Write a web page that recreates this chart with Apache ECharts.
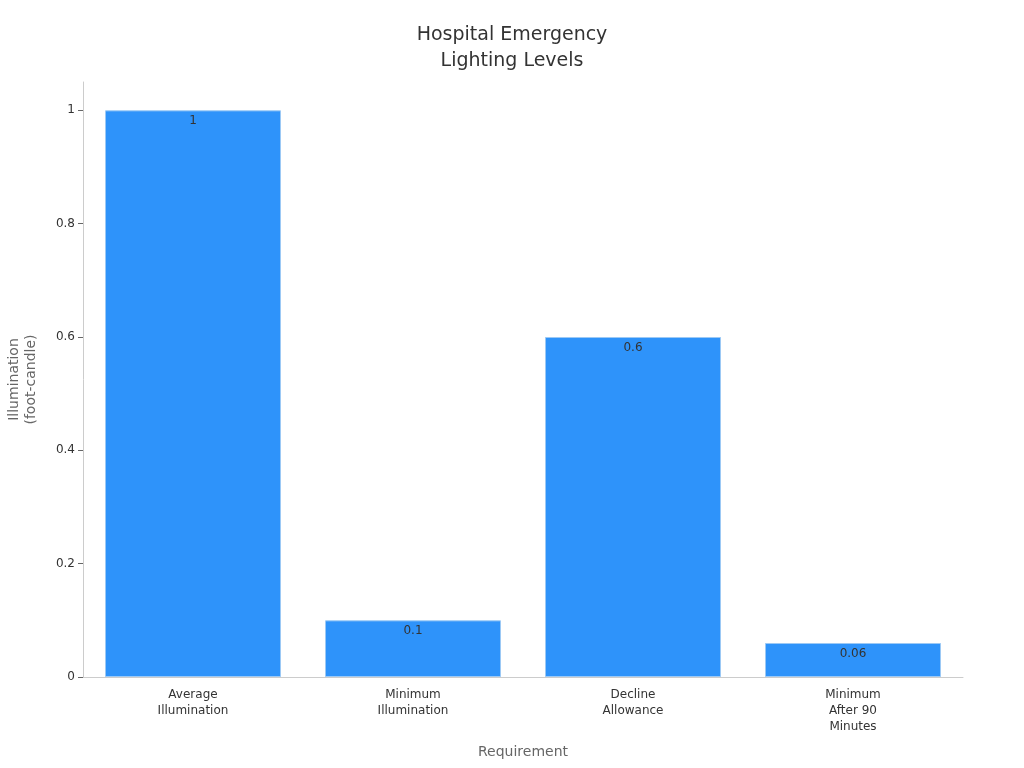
<!DOCTYPE html>
<html>
<head>
<meta charset="utf-8">
<script src="https://cdn.jsdelivr.net/npm/echarts@6/dist/echarts.min.js"></script>
<style>
  html, body { margin: 0; padding: 0; background: #fff; }
  #chart { width: 1024px; height: 768px; }
</style>
</head>
<body>
<div id="chart"></div>
<script>
// data
var categories = ['Average\nIllumination', 'Minimum\nIllumination', 'Decline\nAllowance', 'Minimum\nAfter 90\nMinutes'];
var values = [1, 0.1, 0.6, 0.06];
var yTicks = [0, 0.2, 0.4, 0.6, 0.8, 1];

var myChart = echarts.init(document.getElementById('chart'));
var option = {
    textStyle: { fontFamily: 'DejaVu Sans' },
    title: {
        text: 'Hospital Emergency\nLighting Levels',
        left: 'center',
        top: 17,
        textStyle: { fontFamily: 'DejaVu Sans', fontSize: 19, fontWeight: 'normal', color: '#333', lineHeight: 26 }
    },
    grid: { left: 83, right: 61, top: 82, bottom: 91, outerBoundsMode: 'none', containLabel: false },
    xAxis: {
        type: 'category',
        data: categories,
        name: 'Requirement',
        nameLocation: 'middle',
        nameGap: 68,
        nameTextStyle: { fontSize: 14, color: '#666' },
        axisLine: { lineStyle: { color: '#ccc' } },
        axisTick: { alignWithLabel: true, length: 5, lineStyle: { color: '#666' } },
        axisLabel: { fontSize: 12, color: '#333', lineHeight: 16, margin: 10, interval: 0 }
    },
    yAxis: {
        type: 'value',
        min: 0,
        max: 1.05,
        name: 'Illumination\n(foot-candle)',
        nameLocation: 'middle',
        nameGap: 43,
        nameTextStyle: { fontSize: 14, color: '#666', lineHeight: 17 },
        axisLine: { show: true, lineStyle: { color: '#ccc' } },
        axisTick: { show: true, length: 5, lineStyle: { color: '#666' }, customValues: yTicks },
        axisLabel: { fontSize: 12, color: '#333', margin: 8, customValues: yTicks },
        splitLine: { show: false }
    },
    series: [{
        type: 'bar',
        data: values,
        barCategoryGap: '20%',
        itemStyle: { color: '#2E93FA', borderColor: '#9cc9f5', borderWidth: 1 },
        label: {
            show: true,
            position: 'insideTop',
            color: '#333',
            fontSize: 12
        }
    }]
};
myChart.setOption(option);
</script>
</body>
</html>
